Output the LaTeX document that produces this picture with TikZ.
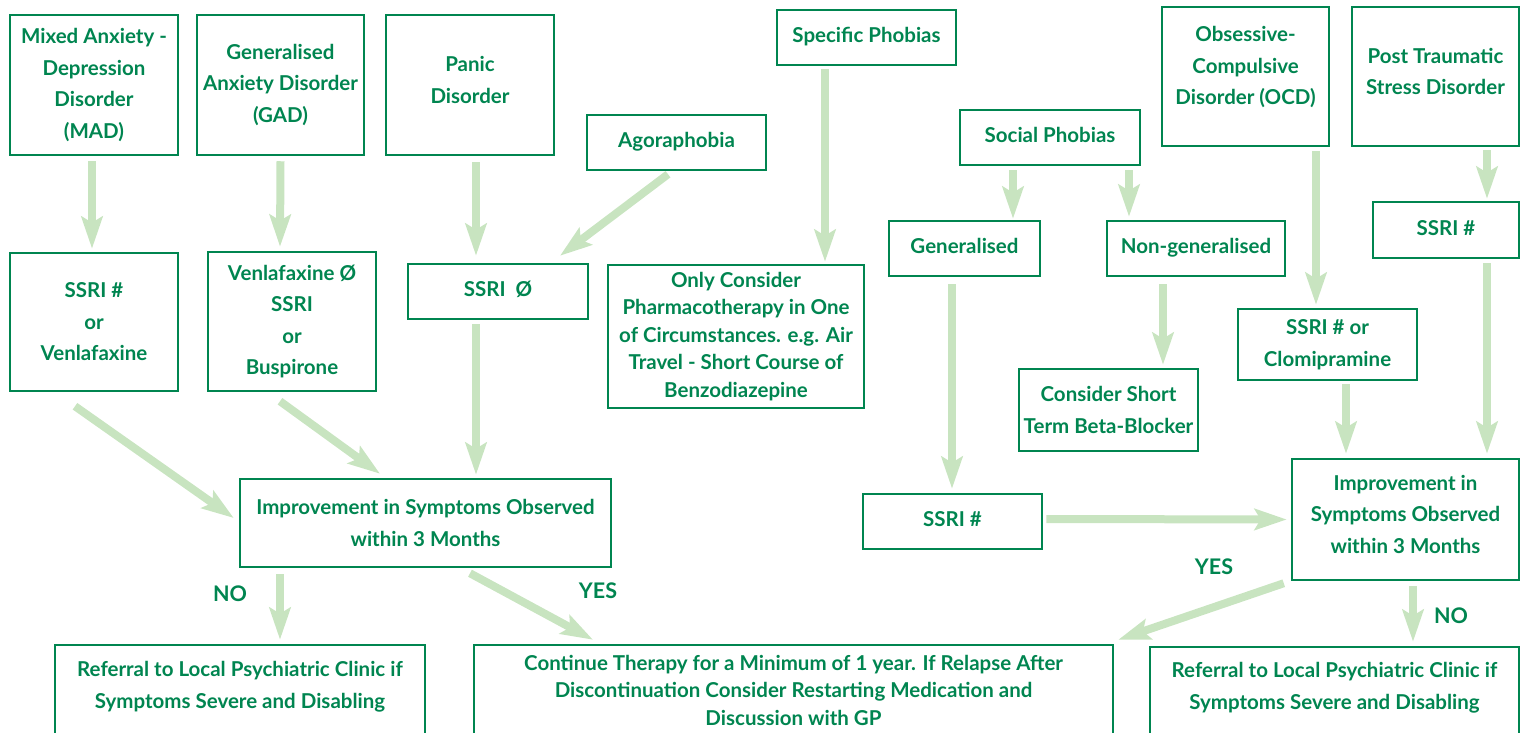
\documentclass[tikz,border=0pt]{standalone}
\usepackage{fontspec}
\setmainfont{Lato}
\usetikzlibrary{arrows.meta}
\definecolor{dg}{RGB}{0,133,80}
\definecolor{lg}{RGB}{200,228,192}
\tikzset{
  box/.style={draw=dg, line width=2.5pt, text=dg, align=center, inner sep=0pt,
    font=\bfseries\fontsize{20.5}{31.5}\selectfont},
  tight/.style={font=\bfseries\fontsize{20.5}{27.5}\selectfont},
  one/.style={text height=14pt, text depth=4pt},
  flow/.style={draw=lg, line width=8pt, -{Stealth[length=32pt,width=21pt,inset=6pt]}},
  lbl/.style={text=dg, font=\bfseries\fontsize{21.5}{24}\selectfont, inner sep=0pt}
}
% place box by corners
\newcommand{\bx}[6][]{\node[box,#1, minimum width=#4pt-#2pt, minimum height=#5pt-#3pt] (#6) at ({(#2+#4)/2},{(#3+#5)/2})}
\begin{document}
\begin{tikzpicture}[x=1pt,y=-1pt]
\useasboundingbox (0,0) rectangle (1526,733);
% row 1
\bx{10}{15}{178}{155}{mad} {Mixed Anxiety -\\Depression\\Disorder\\(MAD)};
\bx{197}{15}{364}{155}{gad} {Generalised\\Anxiety Disorder\\(GAD)};
\bx{386}{15}{554}{155}{panic} {Panic\\Disorder\\[-21pt]\mbox{}};
\bx[one]{587}{115}{766}{170}{agora} {Agoraphobia};
\bx[one]{777}{10}{956}{65}{spec} {Specific Phobias};
\bx[one]{960}{110}{1140}{165}{social} {Social Phobias};
\bx{1162}{7}{1329}{146}{ocd} {Obsessive-\\Compulsive\\Disorder (OCD)\\[-10pt]\mbox{}};
\bx{1352}{7}{1519}{146}{ptsd} {Post Traumatic\\Stress Disorder\\[-21pt]\mbox{}};
% row 2
\bx{10}{253}{178}{391}{ssria} {SSRI \#\\or\\Venlafaxine};
\bx{208}{252}{376}{391}{venla} {Venlafaxine Ø\\SSRI\\or\\Buspirone};
\bx[one]{408}{264}{588}{319}{ssrio} {SSRI~~Ø};
\bx[tight]{608}{265}{864}{408}{only} {Only Consider\\Pharmacotherapy in One\\of Circumstances. e.g. Air\\Travel - Short Course of\\Benzodiazepine};
\bx[one]{889}{221}{1040}{276}{gen} {Generalised};
\bx[one]{1107}{221}{1285}{276}{nongen} {Non-generalised};
\bx[one]{1373}{202}{1519}{258}{ssrip} {SSRI \#};
\bx{1238}{309}{1417}{380}{ssric} {SSRI \# or\\Clomipramine};
\bx{1019}{369}{1198}{451}{beta} {Consider Short\\Term Beta-Blocker};
% row 3
\bx{240}{479}{611}{567}{impl} {Improvement in Symptoms Observed\\within 3 Months};
\bx[one]{863}{494}{1042}{549}{ssrig} {SSRI \#};
\bx{1292}{459}{1519}{580}{impr} {Improvement in\\Symptoms Observed\\within 3 Months\\[-21pt]\mbox{}};
% row 4
\bx{55}{645}{425}{735}{refl} {Referral to Local Psychiatric Clinic if\\Symptoms Severe and Disabling\\[-21pt]\mbox{}};
\bx[tight]{474}{645}{1113}{735}{cont} {Continue Therapy for a Minimum of 1 year. If Relapse After\\Discontinuation Consider Restarting Medication and\\Discussion with GP};
\bx{1150}{647}{1519}{735}{refr} {Referral to Local Psychiatric Clinic if\\Symptoms Severe and Disabling\\[-21pt]\mbox{}};
% labels
\node[lbl] (no1) at (230,594) {NO};
\node[lbl] (yes1) at (598,591) {YES};
\node[lbl] (yes2) at (1214,567) {YES};
\node[lbl] (no2) at (1451,616) {NO};
% arrows
\draw[flow] ([xshift=-2pt,yshift=-5pt]mad.south) -- ([xshift=-2pt,yshift=3pt]ssria.north);
\draw[flow] ([yshift=-5pt]gad.south) -- ([xshift=-12pt,yshift=4pt]venla.north);
\draw[flow] ([xshift=6pt,yshift=-6pt]panic.south) -- ([xshift=-22pt,yshift=7pt]ssrio.north);
\draw[flow] ([xshift=-8.5pt,yshift=-3pt]agora.south) -- ([xshift=62pt,yshift=7pt]ssrio.north);
\draw[flow] ([xshift=-41.5pt,yshift=-3pt]spec.south) -- ([xshift=89pt,yshift=2pt]only.north);
\draw[flow] ([xshift=-37pt,yshift=-4pt]social.south) -- ([xshift=48.5pt,yshift=1pt]gen.north);
\draw[flow] ([xshift=79pt,yshift=-4pt]social.south) -- ([xshift=-67pt,yshift=3pt]nongen.north);
\draw[flow] ([xshift=70.5pt,yshift=-4pt]ocd.south) -- ([xshift=-11.5pt,yshift=3pt]ssric.north);
\draw[flow] ([xshift=51.5pt,yshift=-3pt]ptsd.south) -- ([xshift=41pt,yshift=2pt]ssrip.north);
\draw[flow] ([xshift=-19pt,yshift=-14pt]ssria.south) -- ([xshift=-5pt,yshift=5pt]impl.west);
\draw[flow] ([xshift=-12pt,yshift=-9pt]venla.south) -- ([xshift=-45.5pt,yshift=4pt]impl.north);
\draw[flow] ([xshift=-22pt,yshift=-4pt]ssrio.south) -- ([xshift=50.5pt,yshift=3pt]impl.north);
\draw[flow] ([xshift=-12.5pt,yshift=-7pt]gen.south) -- ([xshift=-0.5pt,yshift=4pt]ssrig.north);
\draw[flow] ([xshift=-33pt,yshift=-7pt]nongen.south) -- ([xshift=54.5pt,yshift=3pt]beta.north);
\draw[flow] ([xshift=18.5pt,yshift=-3pt]ssric.south) -- ([xshift=-59.5pt,yshift=4pt]impr.north);
\draw[flow] ([xshift=41pt,yshift=-4pt]ssrip.south) -- ([xshift=81.5pt,yshift=4pt]impr.north);
\draw[flow] ([xshift=3pt,yshift=2.5pt]ssrig.east) -- ([xshift=-4pt]impr.west);
\draw[flow] ([xshift=-145.5pt,yshift=-6pt]impl.south) -- ([xshift=40pt,yshift=4pt]refl.north);
\draw[flow] ([xshift=44.5pt,yshift=-5pt]impl.south) -- ([xshift=-200.5pt,yshift=4pt]cont.north);
\draw[flow] ([xshift=-7pt,yshift=-2pt]impr.south west) -- ([xshift=4pt,yshift=4pt]cont.north east);
\draw[flow] ([xshift=7.5pt,yshift=-5pt]impr.south) -- ([xshift=78.5pt,yshift=4pt]refr.north);
\end{tikzpicture}
\end{document}
